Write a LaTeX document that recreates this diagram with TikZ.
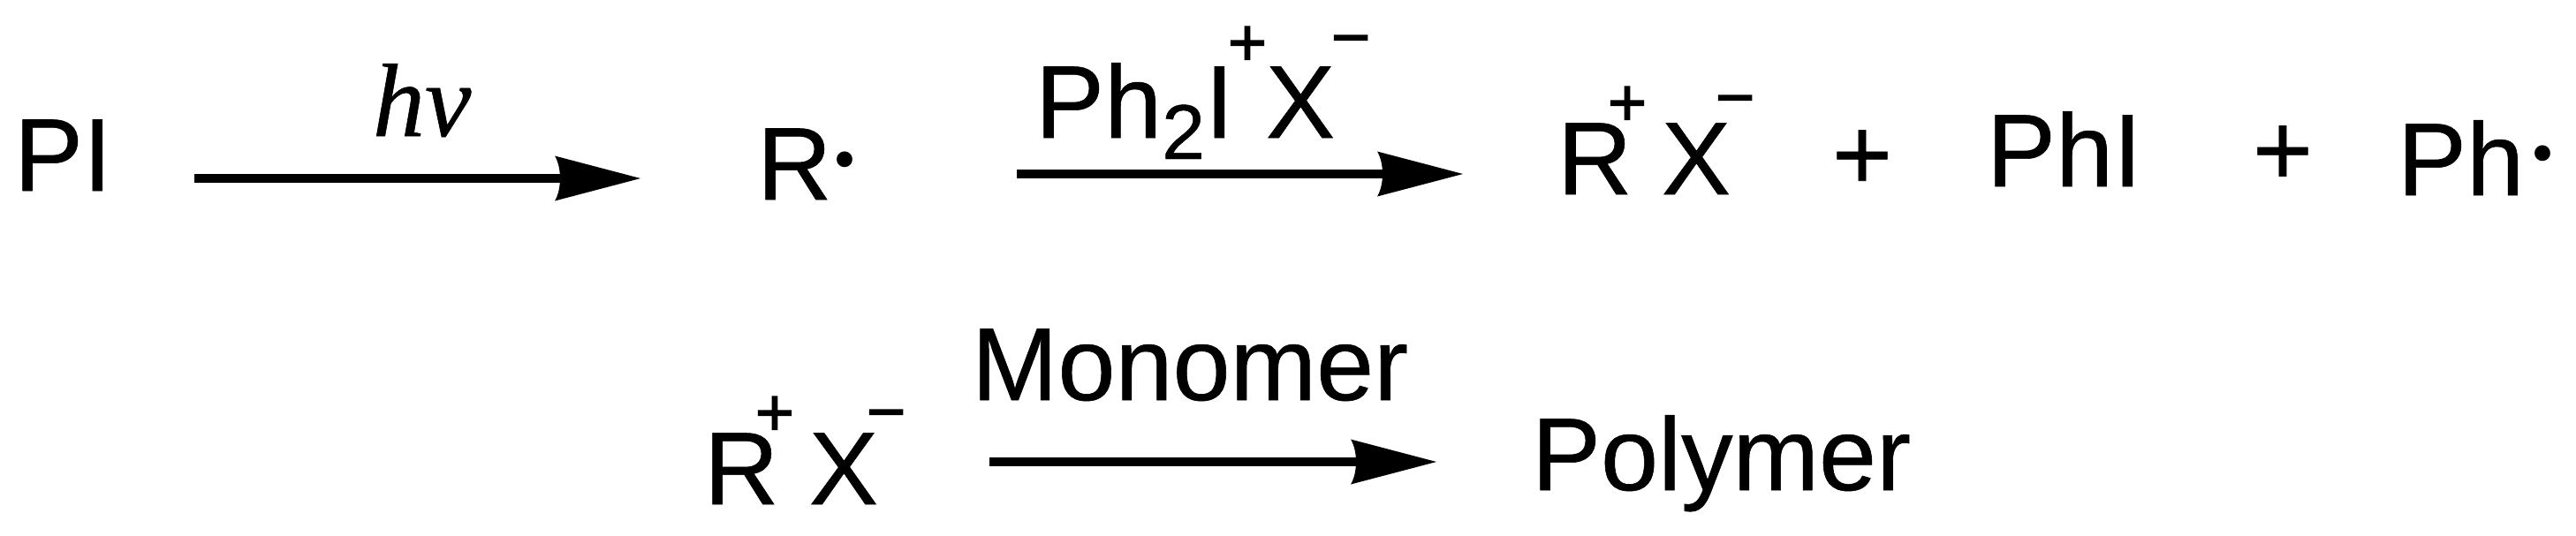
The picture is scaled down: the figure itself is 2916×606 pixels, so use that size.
\documentclass[tikz,border=0pt]{standalone}
\usepackage{fontspec}
\setmainfont{Liberation Sans}
\newfontfamily\chemfont{Liberation Sans}[FakeBold=0.5]
\newfontfamily\chargefont{Liberation Sans}[FakeBold=2]
\newfontfamily\hvfont{Liberation Serif}[FakeBold=0.5]
\newfontfamily\dotfont{Liberation Serif}
\pgfdeclarearrow{
  name=RxnHead,
  setup code={
    \pgfarrowssettipend{0pt}
    \pgfarrowssetlineend{-85pt}
    \pgfarrowssetvisualbackend{-85pt}
    \pgfarrowssetbackend{-97pt}
    \pgfarrowshullpoint{0pt}{0pt}
    \pgfarrowshullpoint{-97pt}{25pt}
    \pgfarrowshullpoint{-97pt}{-25pt}
  },
  drawing code={
    \pgfpathmoveto{\pgfqpoint{0pt}{0pt}}
    \pgfpathlineto{\pgfqpoint{-97pt}{25.5pt}}
    \pgfpathcurveto{\pgfqpoint{-89pt}{12pt}}{\pgfqpoint{-89pt}{-12pt}}{\pgfqpoint{-97pt}{-25.5pt}}
    \pgfpathclose
    \pgfusepathqfill
  }
}
\tikzset{
  chem/.style={inner sep=0pt,outer sep=0pt,anchor=base west,font=\fontsize{117}{117}\selectfont\chemfont},
  bigplus/.style={inner sep=0pt,outer sep=0pt,anchor=base,font=\fontsize{117}{117}\selectfont\chemfont},
  charge/.style={inner sep=0pt,outer sep=0pt,anchor=base,font=\fontsize{76}{76}\selectfont\chargefont},
  radical/.style={inner sep=0pt,outer sep=0pt,anchor=base,font=\fontsize{150}{150}\selectfont\dotfont},
  hvtext/.style={inner sep=0pt,outer sep=0pt,anchor=base west,font=\fontsize{118}{118}\selectfont\hvfont\itshape},
  rxn/.style={line width=10pt,-{RxnHead}},
}
\begin{document}
\begin{tikzpicture}[x=1pt,y=-1pt]
\useasboundingbox (0,0) rectangle (2916,606);
% top row
\node[chem] (pi) at (16,216) {PI};
\node[hvtext] (hv) at (422,154) {hv};
\node[chem] (rad) at (857,226) {R};
\node[radical] (raddot) at (956,230) {·};
\node[chem] (phix) at (1172,156) {Ph\raisebox{-24pt}{\fontsize{88}{88}\selectfont 2}I};
\node[charge] (phplus) at (1412,74) {+};
\node[chem] (phx) at (1433,156) {X};
\node[charge] (phminus) at (1529,68) {−};
\node[chem] (r2) at (1763,220) {R};
\node[charge] (r2plus) at (1842,142) {+};
\node[chem] (x2) at (1881,220) {X};
\node[charge] (x2minus) at (1964,136) {−};
\node[bigplus] (plusa) at (2108,215) {+};
\node[chem] (phi) at (2249,211) {PhI};
\node[bigplus] (plusb) at (2584,210) {+};
\node[chem] (phr) at (2714,221) {Ph};
\node[radical] (phdot) at (2878,223) {·};
% bottom row
\node[chem] (r3) at (797,571) {R};
\node[charge] (r3plus) at (877,493) {+};
\node[chem] (x3) at (916,571) {X};
\node[charge] (x3minus) at (1003,492) {−};
\node[chem] (mono) at (1100,453) {Monomer};
\node[chem] (poly) at (1734,555) {Polymer};
% arrows
\coordinate (a1s) at (220,202);
\coordinate (a1e) at (725,202);
\coordinate (a2s) at (1151,197);
\coordinate (a2e) at (1656,197);
\coordinate (a3s) at (1120,523);
\coordinate (a3e) at (1626,523);
\draw[rxn] (a1s) -- (a1e);
\draw[rxn] (a2s) -- (a2e);
\draw[rxn] (a3s) -- (a3e);
\end{tikzpicture}
\end{document}
